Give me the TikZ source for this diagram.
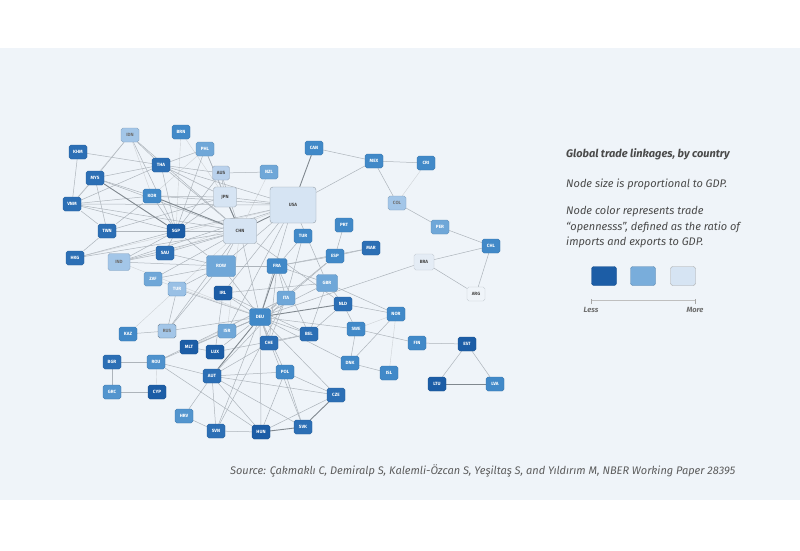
\documentclass[tikz,border=0pt]{standalone}
\usepackage{fontspec}
\setmainfont{Fira Sans}
\usetikzlibrary{backgrounds}
\definecolor{panel}{HTML}{EFF4F9}
\definecolor{ca}{HTML}{1C5DA6}
\definecolor{cb}{HTML}{2C6FB5}
\definecolor{cc}{HTML}{4189C8}
\definecolor{cd}{HTML}{6FA7D8}
\definecolor{ce}{HTML}{A3C6E8}
\definecolor{cf}{HTML}{B9D1EC}
\definecolor{cg}{HTML}{D6E4F3}
\definecolor{ch}{HTML}{E4ECF5}
\definecolor{edgec}{HTML}{ADB4BB}
\definecolor{edged}{HTML}{80888F}
\definecolor{txtc}{HTML}{4A4A4A}
\newcommand{\ndfont}{\fontsize{4.6}{5}\selectfont\bfseries}
\tikzset{
  nd/.style={rectangle, rounded corners=1.8pt, minimum width=18pt, minimum height=14pt, inner sep=0pt, font=\ndfont, text=white, line width=0.4pt},
  ka/.style={fill=ca, draw=ca!85!black},
  kb/.style={fill=cb, draw=cb!85!black},
  kc/.style={fill=cc, draw=cc!85!black},
  kd/.style={fill=cd, draw=cd!85!black},
  ke/.style={fill=ce, draw=ce!80!black, text=txtc!80!white},
  kf/.style={fill=cf, draw=cf!75!black, text=txtc},
  kg/.style={fill=cg, draw=cg!70!black, text=txtc},
  kh/.style={fill=ch, draw=ch!85!black, text=txtc},
  ed/.style={draw=edgec, line width=0.5pt},
  edl/.style={draw=edgec!60!white, line width=0.4pt},
  eds/.style={draw=edged, line width=0.9pt},
  legtxt/.style={font=\fontsize{11}{13}\selectfont\itshape, text=txtc, anchor=west, inner sep=0pt}
}
\begin{document}
\begin{tikzpicture}[x=1pt,y=-1pt]
\useasboundingbox (0,0) rectangle (800,550);
% nodes
\node[nd,ke] (IDN) at (130,135) {IDN};
\node[nd,kc] (BRN) at (181,132) {BRN};
\node[nd,kd] (PHL) at (205,149) {PHL};
\node[nd,kb] (KHM) at (78,152) {KHM};
\node[nd,kb] (THA) at (161,165) {THA};
\node[nd,kb] (MYS) at (95,178) {MYS};
\node[nd,kf,minimum width=17pt] (AUS) at (221,173) {AUS};
\node[nd,kd] (NZL) at (269,172) {NZL};
\node[nd,kc] (CAN) at (314,148) {CAN};
\node[nd,kc] (MEX) at (374,161) {MEX};
\node[nd,kc] (CRI) at (426,163) {CRI};
\node[nd,kg,minimum width=46pt,minimum height=36pt,rounded corners=3pt] (USA) at (293,205) {USA};
\node[nd,kg,minimum width=23pt,minimum height=20pt] (JPN) at (225,197) {JPN};
\node[nd,kc] (KOR) at (152,196) {KOR};
\node[nd,kb] (VNM) at (72,204) {VNM};
\node[nd,ka] (SGP) at (176,231) {SGP};
\node[nd,kb] (TWN) at (107,231) {TWN};
\node[nd,kg,minimum width=33pt,minimum height=25pt,rounded corners=2.5pt] (CHN) at (240,231) {CHN};
\node[nd,ke] (COL) at (397,203) {COL};
\node[nd,kd] (PER) at (440,227) {PER};
\node[nd,kc] (CHL) at (491,246) {CHL};
\node[nd,kc] (PRT) at (344,225) {PRT};
\node[nd,kc] (TUN) at (303,236) {TUR};
\node[nd,kb] (HKG) at (75,258) {HKG};
\node[nd,ke,minimum width=22pt,minimum height=17pt] (IND) at (119,262) {IND};
\node[nd,kb] (SAU) at (165,253) {SAU};
\node[nd,kd,minimum width=29pt,minimum height=21pt] (ROW) at (221,266) {ROW};
\node[nd,kc,minimum width=20pt,minimum height=15pt] (FRA) at (277,266) {FRA};
\node[nd,kb] (MAR) at (371,248) {MAR};
\node[nd,kc] (ESP) at (335,256) {ESP};
\node[nd,kh,minimum width=20pt,minimum height=16pt] (BRA) at (424,262) {BRA};
\node[nd,kd] (ZAF) at (153,279) {ZAF};
\node[nd,kd,fill=ce!80!cd] (TUR) at (177,289) {TUR};
\node[nd,kd,minimum width=21pt,minimum height=17pt] (GBR) at (327,283) {GBR};
\node[nd,kh,fill=ch!60!white] (ARG) at (476,294) {ARG};
\node[nd,ka] (IRL) at (223,293) {IRL};
\node[nd,kd] (ITA) at (286,298) {ITA};
\node[nd,kb] (NLD) at (343,304) {NLD};
\node[nd,kc,minimum width=21pt,minimum height=17pt] (DEU) at (260,317) {DEU};
\node[nd,kc] (NOR) at (396,314) {NOR};
\node[nd,kc] (KAZ) at (128,334) {KAZ};
\node[nd,ke,draw=ce!60!black] (RUS) at (167,331) {RUS};
\node[nd,kd] (ISR) at (227,331) {ISR};
\node[nd,kc] (SWE) at (356,329) {SWE};
\node[nd,kb] (BEL) at (309,334) {BEL};
\node[nd,kb] (CHE) at (269,343) {CHE};
\node[nd,kc] (FIN) at (417,343) {FIN};
\node[nd,ka] (EST) at (467,344) {EST};
\node[nd,ka] (MLT) at (189,347) {MLT};
\node[nd,ka] (LUX) at (215,352) {LUX};
\node[nd,kc] (DNK) at (350,363) {DNK};
\node[nd,kb] (BGR) at (112,362) {BGR};
\node[nd,kc,fill=cc!70!cd] (ROU) at (156,362) {ROU};
\node[nd,kc] (ISL) at (389,373) {ISL};
\node[nd,kc] (POL) at (285,372) {POL};
\node[nd,kb] (AUT) at (212,376) {AUT};
\node[nd,ka] (LTU) at (437,384) {LTU};
\node[nd,kc] (LVA) at (495,384) {LVA};
\node[nd,kc,fill=cc!60!cd] (GRC) at (112,392) {GRC};
\node[nd,ka] (CYP) at (157,392) {CYP};
\node[nd,kb] (CZE) at (336,395) {CZE};
\node[nd,kc,fill=cc!60!cd] (HRV) at (184,416) {HRV};
\node[nd,kb] (SVK) at (303,427) {SVK};
\node[nd,kb] (SVN) at (216,431) {SVN};
\node[nd,ka] (HUN) at (261,432) {HUN};
% legend
\node[legtxt,font=\fontsize{11}{13}\selectfont\bfseries\itshape] (ttl) at (566,154) {Global trade linkages, by country};
\node[legtxt] (l1) at (566,184) {Node size is proportional to GDP.};
\node[legtxt] (l2) at (566,212) {Node color represents trade};
\node[legtxt] (l3) at (566,227) {“opennesss”, defined as the ratio of};
\node[legtxt] (l4) at (566,242) {imports and exports to GDP.};
\node[nd,ka,minimum width=25pt,minimum height=19pt,rounded corners=2.5pt] (lg1) at (604,276) {};
\node[nd,fill=cd!80!ce,draw=cd!80!black,minimum width=25pt,minimum height=19pt,rounded corners=2.5pt] (lg2) at (643,276) {};
\node[nd,kg,draw=gray!70,minimum width=25pt,minimum height=19pt,rounded corners=2.5pt] (lg3) at (683,276) {};
\coordinate (axa) at (591,300);
\coordinate (axb) at (695,300);
\draw[gray!50, line width=0.4pt] (axa) -- (axb);
\draw[gray!70, line width=0.5pt] ([yshift=-4pt]axa) -- ([yshift=1pt]axa);
\draw[gray!70, line width=0.5pt] ([yshift=-4pt]axb) -- ([yshift=1pt]axb);
\node[font=\fontsize{7.5}{9}\selectfont\bfseries\itshape, text=txtc!80!white, inner sep=0pt] (less) at (591,310) {Less};
\node[font=\fontsize{7.5}{9}\selectfont\bfseries\itshape, text=txtc!80!white, inner sep=0pt] (more) at (695,310) {More};
\node[legtxt, text=txtc!90!white] (src) at (230,471) {Source: Çakmaklı C, Demiralp S, Kalemli-Özcan S, Yeşiltaş S, and Yıldırım M, NBER Working Paper 28395};
% background and edges
\begin{pgfonlayer}{background}
\fill[white] (0,0) rectangle (800,550);
\fill[panel] (0,48) rectangle (800,500);
\foreach \a/\b in {IDN/KOR,BRN/SGP,BRN/JPN,CRI/COL,IDN/VNM,PHL/KOR,NZL/CHN,CYP/ROU,MLT/ITA,ISL/NOR,KAZ/CHN,HKG/USA,ZAF/DEU,SAU/USA,IND/DEU,ISR/CHN,NOR/SWE}
  \draw[edl] (\a) -- (\b);
\foreach \a/\b in {IDN/SGP,IDN/MYS,IDN/THA,IDN/CHN,KHM/THA,KHM/VNM,PHL/THA,PHL/SGP,PHL/CHN,PHL/JPN,THA/MYS,THA/SGP,THA/JPN,THA/CHN,THA/VNM,THA/USA,THA/AUS,MYS/TWN,MYS/VNM,MYS/CHN,MYS/KOR,VNM/CHN,VNM/KOR,VNM/SGP,VNM/TWN,VNM/USA,KOR/SGP,KOR/JPN,KOR/TWN,KOR/USA,TWN/SGP,TWN/CHN,TWN/HKG,TWN/JPN,SGP/CHN,SGP/HKG,SGP/IND,SGP/ROW,SGP/AUS,SGP/JPN,SGP/SAU,SGP/USA,HKG/CHN,IND/ROW,IND/CHN,IND/SAU,IND/USA,SAU/CHN,SAU/ROW,ZAF/ROW,ZAF/CHN,TUR/RUS,TUR/DEU,TUR/ROW,KAZ/RUS,RUS/DEU,RUS/CHN,RUS/ROW,USA/MEX,USA/JPN,USA/DEU,USA/ROW,USA/GBR,AUS/NZL,AUS/CHN,AUS/JPN,CHN/ROW,CHN/DEU,TUN/FRA,TUN/ITA,PRT/ESP,MAR/ESP,MAR/FRA,ESP/FRA,ESP/DEU,ESP/ITA,FRA/ITA,FRA/BEL,FRA/GBR,FRA/CHE,FRA/ROW,GBR/DEU,GBR/NLD,GBR/IRL,GBR/BEL,GBR/NOR,IRL/DEU,IRL/LUX,IRL/BEL,IRL/USA,ITA/DEU,ITA/CHE,ITA/AUT,ITA/SVN,NLD/BEL,NLD/NOR,NLD/SWE,DEU/CHE,DEU/POL,DEU/CZE,DEU/HUN,DEU/BEL,DEU/SWE,DEU/DNK,DEU/SVK,DEU/ROU,DEU/LUX,DEU/ROW,BEL/LUX,BEL/CHE,CHE/AUT,AUT/HUN,AUT/SVN,AUT/CZE,AUT/SVK,AUT/HRV,AUT/ROU,AUT/POL,POL/CZE,POL/HUN,POL/SVK,CZE/HUN,HUN/ROU,HUN/SVN,SVN/HRV,ROU/BGR,BGR/GRC,GRC/CYP,MLT/LUX,MLT/DEU,SWE/FIN,SWE/DNK,DNK/NOR,DNK/ISL,FIN/EST,EST/LTU,EST/LVA,MEX/CRI,MEX/COL,MEX/CAN,COL/PER,PER/CHL,CHL/BRA,CHL/ARG,BRA/ARG,BRA/DEU,ISR/USA,ISR/DEU,NLD/CHN,SVN/DEU,ROU/ITA}
  \draw[ed] (\a) -- (\b);
\foreach \a/\b in {MYS/SGP,LTU/LVA,CZE/SVK,HUN/SVK,USA/CAN,JPN/CHN,USA/CHN,DEU/NLD,DEU/FRA,AUT/DEU,CHN/KOR}
  \draw[eds] (\a) -- (\b);
\end{pgfonlayer}
\end{tikzpicture}
\end{document}
